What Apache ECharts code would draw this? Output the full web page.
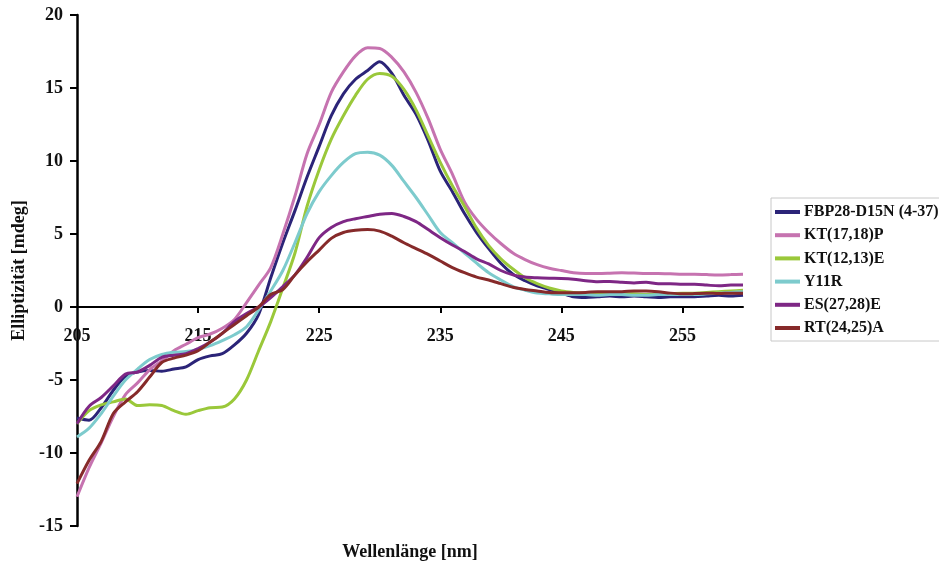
<!DOCTYPE html>
<html>
<head>
<meta charset="utf-8">
<script src="https://cdn.jsdelivr.net/npm/echarts@6/dist/echarts.min.js"></script>
<style>
html,body{margin:0;padding:0;background:#fff;}
#chart{width:939px;height:569px;}
</style>
</head>
<body>
<div id="chart"></div>
<script>
// Wavelengths 205..260 nm, 1 nm steps
const wavelengths = [205,206,207,208,209,210,211,212,213,214,215,216,217,218,219,220,221,222,223,224,225,226,227,228,229,230,231,232,233,234,235,236,237,238,239,240,241,242,243,244,245,246,247,248,249,250,251,252,253,254,255,256,257,258,259,260];

const seriesNames = ['FBP28-D15N (4-37)','KT(17,18)P','KT(12,13)E','Y11R','ES(27,28)E','RT(24,25)A'];

const fbp28 = [-7.6,-7.75,-6.9,-5.7,-4.75,-4.45,-4.35,-4.4,-4.25,-4.1,-3.6,-3.35,-3.2,-2.6,-1.8,-0.5,2.0,4.4,6.6,8.9,11.0,13.1,14.6,15.6,16.2,16.8,16.0,14.5,13.2,11.4,9.3,7.9,6.4,5.1,4.0,3.0,2.25,1.8,1.45,1.2,0.95,0.7,0.65,0.7,0.75,0.7,0.75,0.7,0.65,0.7,0.7,0.7,0.75,0.8,0.75,0.8];
const kt1718p = [-13.0,-11.0,-9.3,-7.5,-6.0,-5.2,-4.3,-3.7,-3.0,-2.55,-2.1,-1.85,-1.45,-0.85,0.3,1.5,2.7,5.0,7.6,10.5,12.5,14.7,16.1,17.2,17.75,17.7,17.1,16.1,14.7,12.9,10.8,9.1,7.2,6.0,5.1,4.35,3.7,3.25,2.9,2.65,2.5,2.35,2.3,2.3,2.32,2.35,2.33,2.3,2.3,2.28,2.25,2.25,2.22,2.2,2.22,2.25];
const kt1213e = [-8.0,-7.1,-6.7,-6.5,-6.3,-6.75,-6.7,-6.75,-7.1,-7.35,-7.1,-6.9,-6.85,-6.3,-5.0,-3.0,-1.0,1.3,3.7,6.9,9.4,11.5,13.1,14.5,15.6,16.0,15.8,14.9,13.5,11.7,9.9,8.3,6.9,5.4,4.2,3.3,2.6,2.0,1.6,1.3,1.1,1.0,0.95,0.9,0.9,0.9,0.9,0.85,0.85,0.9,0.95,0.95,1.0,1.05,1.1,1.15];
const y11r = [-8.9,-8.3,-7.3,-6.1,-5.0,-4.25,-3.6,-3.25,-3.1,-3.05,-2.9,-2.65,-2.3,-1.9,-1.35,-0.2,1.1,2.5,4.4,6.4,7.9,9.0,9.9,10.5,10.6,10.4,9.7,8.6,7.5,6.3,5.1,4.4,3.7,3.0,2.35,1.85,1.4,1.15,0.95,0.9,0.85,0.85,0.85,0.8,0.85,0.85,0.8,0.8,0.85,0.85,0.85,0.85,0.9,0.95,1.0,1.05];
const es2728e = [-8.0,-6.8,-6.2,-5.4,-4.6,-4.45,-4.0,-3.45,-3.3,-3.2,-2.85,-2.4,-1.8,-1.0,-0.45,0.0,0.65,1.4,2.2,3.4,4.75,5.45,5.85,6.05,6.2,6.35,6.4,6.2,5.85,5.3,4.75,4.25,3.8,3.3,2.95,2.5,2.2,2.05,2.0,1.97,1.95,1.9,1.8,1.73,1.75,1.7,1.65,1.7,1.6,1.6,1.55,1.55,1.5,1.45,1.5,1.5];
const rt2425a = [-12.1,-10.5,-9.2,-7.3,-6.5,-5.8,-4.8,-3.8,-3.5,-3.3,-3.0,-2.4,-1.8,-1.2,-0.6,0.0,0.85,1.2,2.2,3.1,3.9,4.7,5.1,5.25,5.3,5.2,4.85,4.4,4.0,3.6,3.15,2.7,2.35,2.05,1.85,1.6,1.35,1.2,1.1,1.0,0.98,0.98,1.0,1.05,1.05,1.05,1.1,1.1,1.05,0.95,0.9,0.92,0.95,0.92,0.95,0.95];

const xLabelValues = [205,215,225,235,245,255];
const xTickValues = [215,225,235,245,255];

const colors = ['#2b2478','#c673b0','#9ac83a','#7dcbcd','#7e2785','#862a2a'];
const allData = [fbp28,kt1718p,kt1213e,y11r,es2728e,rt2425a];

const font = '"Liberation Serif","Times New Roman",serif';

const chart = echarts.init(document.getElementById('chart'), null, {renderer:'canvas'});
chart.setOption({
  animation: false,
  backgroundColor: '#fff',
  color: colors,
  grid: {left: 77, right: 196, top: 15, bottom: 43, containLabel: false, outerBoundsMode: 'none'},
  legend: {
    orient: 'vertical',
    left: 771, top: 198,
    padding: [4, 12, 3, 4],
    itemGap: 3.2,
    itemWidth: 25, itemHeight: 4,
    icon: 'rect',
    borderColor: '#c8c8c8', borderWidth: 1,
    textStyle: {fontFamily: font, fontWeight: 'bold', fontSize: 16, color: '#111', lineHeight: 20, padding: [0,0,0,-1]},
    data: seriesNames
  },
  xAxis: {
    type: 'value', min: 205, max: 260, interval: 5,
    position: 'bottom',
    offset: -219,
    name: 'Wellenlänge [nm]', nameLocation: 'middle', nameGap: 236,
    nameTextStyle: {fontFamily: font, fontWeight: 'bold', fontSize: 18, color: '#111'},
    axisLine: {onZero: false, lineStyle: {color: '#000', width: 2}},
    axisTick: {show: true, length: 6, customValues: xTickValues, lineStyle: {color:'#000', width: 2}},
    axisLabel: {customValues: xLabelValues, margin: 20, fontFamily: font, fontWeight: 'bold', fontSize: 18, color: '#111'},
    splitLine: {show: false}
  },
  yAxis: {
    type: 'value', min: -15, max: 20, interval: 5,
    name: 'Elliptizität [mdeg]', nameLocation: 'middle', nameGap: 46, nameRotate: 90,
    nameTextStyle: {fontFamily: font, fontWeight: 'bold', fontSize: 18, color: '#111'},
    axisLine: {show: true, onZero: false, lineStyle: {color: '#000', width: 2.5}},
    axisTick: {show: true, length: 7, lineStyle: {color:'#000', width: 2}},
    axisLabel: {margin: 14, fontFamily: font, fontWeight: 'bold', fontSize: 18, color: '#111'},
    splitLine: {show: false}
  },
  series: seriesNames.map((n, i) => ({
    name: n,
    type: 'line',
    data: wavelengths.map((w, j) => [w, allData[i][j]]),
    showSymbol: false,
    symbol: 'none',
    smooth: 0.3,
    lineStyle: {width: 3, color: colors[i]},
    itemStyle: {color: colors[i]}
  }))
});
</script>
</body>
</html>
